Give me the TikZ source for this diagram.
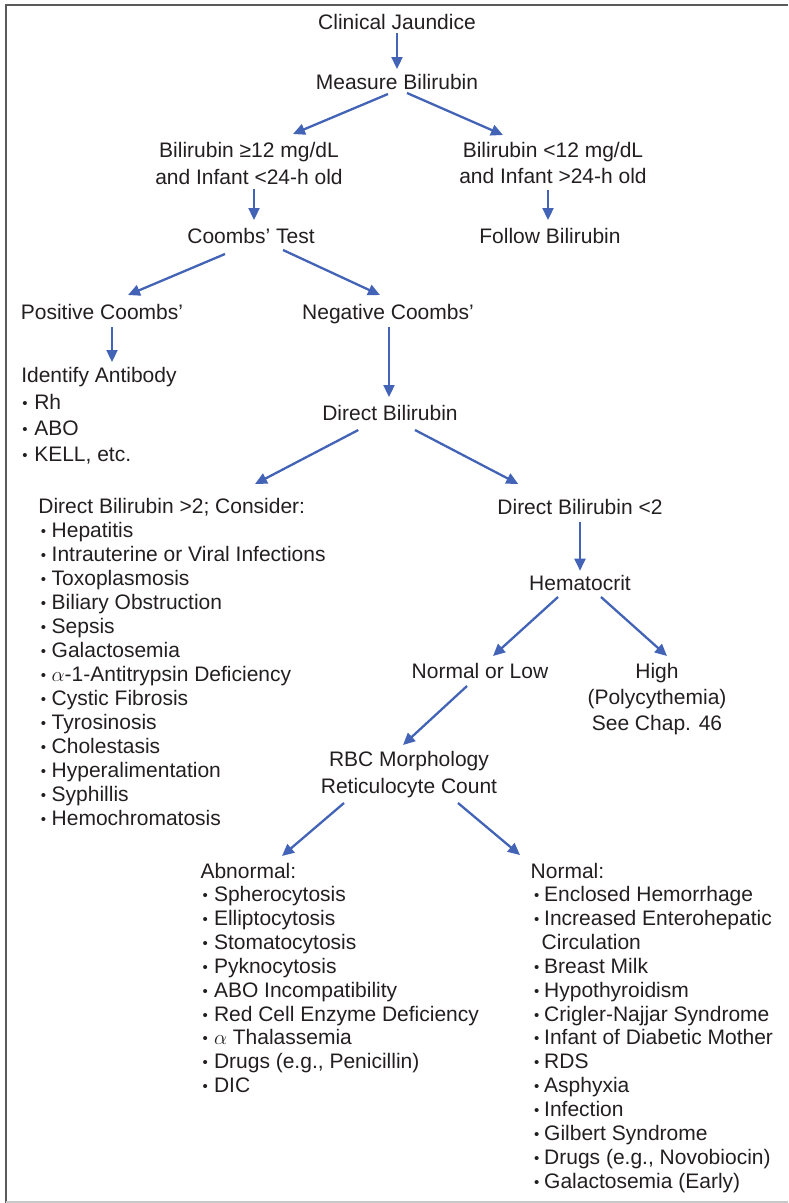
\documentclass[tikz,border=0pt]{standalone}
\usepackage{fontspec}
\setmainfont{Liberation Sans}
\usetikzlibrary{arrows.meta,calc}
\definecolor{arrblue}{RGB}{66,99,182}
\definecolor{frameDark}{RGB}{90,90,90}
\definecolor{frameLight}{RGB}{200,200,200}
\definecolor{txt}{RGB}{35,31,32}
\newlength\bulh
\newlength\bulw
\newcommand\bul{\makebox[\bulw][l]{\hspace{\bulh}\raisebox{1pt}{\fontsize{15}{15}\selectfont •}}}
\begin{document}
\begin{tikzpicture}[x=1pt,y=-1pt,
  lbl/.style={inner sep=0pt, outer sep=0pt, anchor=base, text=txt, font=\fontsize{21}{26.6}\selectfont},
  lbltwo/.style={inner sep=0pt, outer sep=0pt, anchor=base, text=txt, align=center, font=\fontsize{21}{#1}\selectfont},
  lst/.style={inner sep=0pt, outer sep=0pt, anchor=base west, text=txt, align=left, font=\fontsize{21}{#1}\selectfont},
  bulset/.style 2 args={/utils/exec={\setlength\bulh{#1}\setlength\bulw{#2}}},
  arr/.style={draw=arrblue, line width=2.3pt, -{Triangle[length=12pt,width=11pt]}}]
\useasboundingbox (0,0) rectangle (788,1203);
% frame
\draw[frameDark, line width=2pt] (788,4.5) -- (5.5,4.5) -- (5.5,1203);
\draw[frameLight, line width=1.5pt] (5.5,1202) -- (788,1202);
% nodes (multi-line nodes are placed at the baseline of their last line)
\node[lbl] (cj) at (397,29.3) {Clinical Jaundice};
\node[lbl] (mb) at (397,89.3) {Measure Bilirubin};
\node[lbltwo=27] (b1) at (249,184.3) {Bilirubin ≥12 mg/dL\\and Infant <24-h old};
\node[lbltwo=26.6] (b2) at (553,183.6) {Bilirubin <12 mg/dL\\and Infant >24-h old};
\node[lbl] (ct) at (251,243.3) {Coombs’ Test};
\node[lbl] (fb) at (550,243.3) {Follow Bilirubin};
\node[lbl] (pc) at (102,319.3) {Positive Coombs’};
\node[lbl] (nc) at (388,319.3) {Negative Coombs’};
\node[lst=26.3, bulset={1.1pt}{13pt}] (ia) at (21.3,461.6)
  {Identify Antibody\\\bul Rh\\\bul ABO\\\bul KELL, etc.};
\node[lbl] (db) at (390,420) {Direct Bilirubin};
\node[lst=24, bulset={2.5pt}{13.3pt}] (dl) at (38.4,825.5)
  {Direct Bilirubin >2; Consider:\\
   \bul Hepatitis\\
   \bul Intrauterine or Viral Infections\\
   \bul Toxoplasmosis\\
   \bul Biliary Obstruction\\
   \bul Sepsis\\
   \bul Galactosemia\\
   \bul $\alpha$-1-Antitrypsin Deficiency\\
   \bul Cystic Fibrosis\\
   \bul Tyrosinosis\\
   \bul Cholestasis\\
   \bul Hyperalimentation\\
   \bul Syphillis\\
   \bul Hemochromatosis};
\node[lbl] (dr) at (580,514) {Direct Bilirubin <2};
\node[lbl] (hc) at (580,590.7) {Hematocrit};
\node[lbl] (nl) at (480,678.3) {Normal or Low};
\node[lbltwo=26.3] (hi) at (657,730.6) {High\\(Polycythemia)\\See Chap. 46};
\node[lbltwo=26.6] (rbc) at (409,793.3) {RBC Morphology\\Reticulocyte Count};
\node[lst=23.85, bulset={2pt}{13.5pt}] (ab) at (200.5,1092.65)
  {Abnormal:\\
   \bul Spherocytosis\\
   \bul Elliptocytosis\\
   \bul Stomatocytosis\\
   \bul Pyknocytosis\\
   \bul ABO Incompatibility\\
   \bul Red Cell Enzyme Deficiency\\
   \bul $\alpha$ Thalassemia\\
   \bul Drugs (e.g., Penicillin)\\
   \bul DIC};
\node[lst=23.85, bulset={3.5pt}{13.5pt}] (no) at (530.7,1188.05)
  {Normal:\\
   \bul Enclosed Hemorrhage\\
   \bul Increased Enterohepatic\\
   \hspace*{11pt}Circulation\\
   \bul Breast Milk\\
   \bul Hypothyroidism\\
   \bul Crigler-Najjar Syndrome\\
   \bul Infant of Diabetic Mother\\
   \bul RDS\\
   \bul Asphyxia\\
   \bul Infection\\
   \bul Gilbert Syndrome\\
   \bul Drugs (e.g., Novobiocin)\\
   \bul Galactosemia (Early)};
% connectors
\draw[arr] ($(cj.base)+(0,4)$) -- ($(mb.base)+(0,-20.3)$);
\draw[arr] ($(mb.base)+(-9,4.7)$) -- ($(b1.base)+(44,-50.3)$);
\draw[arr] ($(mb.base)+(10,3.7)$) -- ($(b2.base)+(-50,-48.6)$);
\draw[arr] ($(b1.base)+(5,4.7)$) -- ($(ct.base)+(3,-23.3)$);
\draw[arr] ($(b2.base)+(-5,6.4)$) -- ($(fb.base)+(-2,-23.3)$);
\draw[arr] ($(ct.base)+(-26,10.7)$) -- ($(pc.base)+(26,-24.3)$);
\draw[arr] ($(ct.base)+(32,6.7)$) -- ($(nc.base)+(-8,-24.3)$);
\draw[arr] ($(pc.base)+(10,7.7)$) -- ($(ia.base west)+(90.7,-99.6)$);
\draw[arr] ($(nc.base)+(1,7.7)$) -- ($(db.base)+(-1,-23)$);
\draw[arr] ($(db.base)+(-31.7,10)$) -- ($(dl.base west)+(216.6,-341.5)$);
\draw[arr] ($(db.base)+(25,10)$) -- ($(dr.base)+(-61.7,-30)$);
\draw[arr] ($(dr.base)+(0,7.7)$) -- ($(hc.base)+(0,-20)$);
\draw[arr] ($(hc.base)+(-22,6.3)$) -- ($(nl.base)+(13,-22.3)$);
\draw[arr] ($(hc.base)+(21,6.3)$) -- ($(hi.base)+(10,-74.6)$);
\draw[arr] ($(nl.base)+(-13,7.7)$) -- ($(rbc.base)+(-6,-48.3)$);
\draw[arr] ($(rbc.base)+(-65,9.7)$) -- ($(ab.base west)+(81.5,-236.65)$);
\draw[arr] ($(rbc.base)+(49,9.7)$) -- ($(no.base west)+(-10.7,-333.05)$);
\end{tikzpicture}
\end{document}
